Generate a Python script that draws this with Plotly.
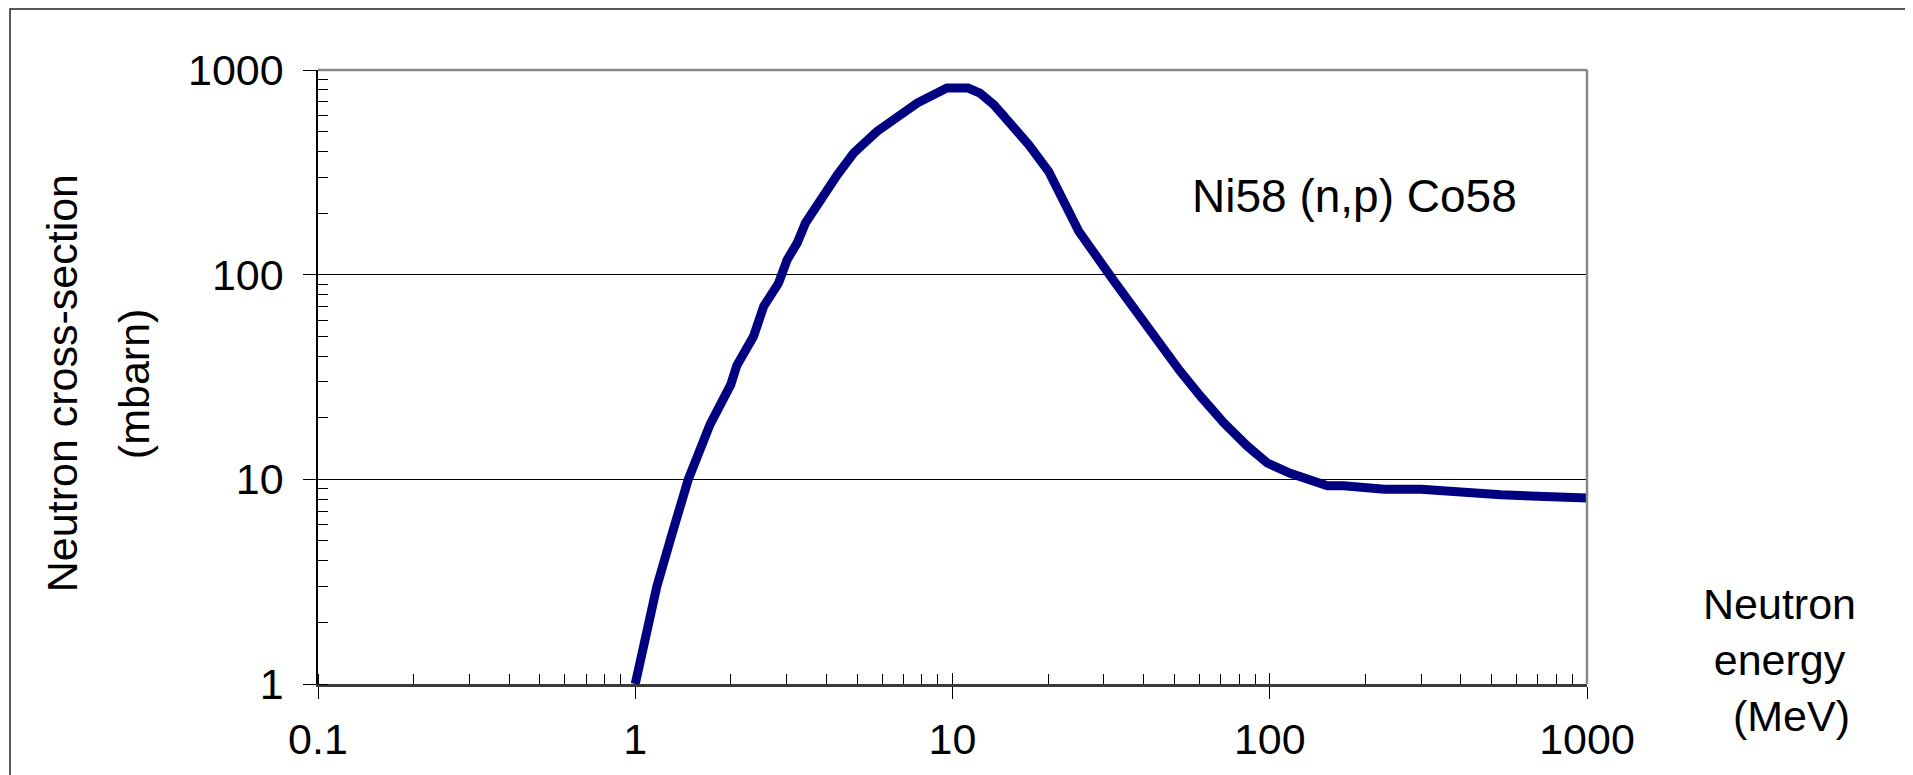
import plotly.graph_objects as go

# Neutron energy (MeV) and Ni58(n,p)Co58 cross-section (mbarn)
energy_mev = [1.0, 1.17, 1.31, 1.47, 1.72, 2.0, 2.09, 2.36, 2.54, 2.83, 3.01, 3.24, 3.44,
              3.83, 4.33, 4.88, 5.78, 7.74, 9.6, 11.2, 12.2, 13.5, 15.2, 17.4, 20.1, 22.4,
              25.0, 32.3, 43.2, 52.0, 60.6, 71.8, 85.1, 98.4, 116.0, 152.0, 171.0, 230.0,
              300.0, 535.0, 1000.0]
cross_section_mbarn = [1.0, 3.0, 5.5, 10.0, 18.5, 29.0, 36.0, 50.0, 70.0, 91.0, 118.0, 143.0,
                       179.0, 232.0, 307.0, 393.0, 501.0, 689.0, 816.0, 816.0, 771.0, 676.0,
                       550.0, 431.0, 319.0, 224.0, 163.0, 93.0, 50.0, 34.0, 25.4, 18.8, 14.5,
                       12.0, 10.7, 9.3, 9.3, 8.95, 8.95, 8.4, 8.1]

x_tick_vals = [0.1, 1, 10, 100, 1000]
x_tick_text = ["0.1", "1", "10", "100", "1000"]
y_tick_vals = [1, 10, 100, 1000]
y_tick_text = ["1", "10", "100", "1000"]

series_label = "Ni58 (n,p) Co58"
x_title = "Neutron<br>energy<br>&nbsp;&nbsp;(MeV)"
y_title_line1 = "Neutron cross-section"
y_title_line2 = "(mbarn)"

FONT = "Liberation Sans, Arial, sans-serif"

fig = go.Figure()
fig.add_trace(go.Scatter(
    x=energy_mev, y=cross_section_mbarn, mode="lines",
    line=dict(color="#000080", width=9),
    showlegend=False, hoverinfo="x+y",
))
# helper trace for the inner half of the major x ticks
fig.add_trace(go.Scatter(x=[], y=[], xaxis="x2", yaxis="y", mode="lines",
                         showlegend=False, hoverinfo="skip"))

fig.update_layout(
    width=1913, height=775,
    margin=dict(l=310, r=334, t=62, b=99),
    paper_bgcolor="white", plot_bgcolor="white",
    font=dict(family=FONT, color="black", size=43),
    xaxis=dict(
        type="log", range=[-1, 3], automargin=False,
        tickvals=x_tick_vals, ticktext=x_tick_text,
        ticks="outside", ticklen=12, tickwidth=1.3, tickcolor="black",
        tickfont=dict(size=43, family=FONT, color="black"),
        ticklabelstandoff=4,
        showline=True, linecolor="#3a3a3a", linewidth=2.5,
        showgrid=False, zeroline=False,
        minor=dict(ticks="inside", ticklen=10, tickwidth=1, tickcolor="black",
                   dtick="D1", showgrid=False),
    ),
    xaxis2=dict(
        type="log", range=[-1, 3], overlaying="x", anchor="y", side="bottom",
        automargin=False,
        tickvals=x_tick_vals, ticks="inside", ticklen=11, tickwidth=1.3,
        tickcolor="black", showticklabels=False, showgrid=False, zeroline=False,
        showline=False,
    ),
    yaxis=dict(
        type="log", range=[0, 3], automargin=False,
        tickvals=y_tick_vals, ticktext=y_tick_text,
        ticks="outside", ticklen=13, tickwidth=1.3, tickcolor="black",
        tickfont=dict(size=43, family=FONT, color="black"),
        ticklabelstandoff=11,
        showline=True, linecolor="black", linewidth=1.5,
        showgrid=True, gridcolor="black", gridwidth=1,
        zeroline=False,
        minor=dict(ticks="inside", ticklen=10, tickwidth=1, tickcolor="black",
                   dtick="D1", showgrid=False),
    ),
    shapes=[
        # plot-area top and right borders (grey)
        dict(type="line", xref="paper", yref="paper", x0=0, x1=1, y0=1, y1=1,
             line=dict(color="#888888", width=2.5)),
        dict(type="line", xref="paper", yref="paper", x0=1, x1=1, y0=0, y1=1,
             line=dict(color="#888888", width=2.5)),
        # outer chart frame
        dict(type="rect", xref="paper", yref="paper",
             x0=-0.2427, x1=1.2522, y0=-0.2, y1=1.0993,
             line=dict(color="#222222", width=1.5), fillcolor="rgba(0,0,0,0)",
             layer="below"),
    ],
    annotations=[
        dict(text=series_label, xref="paper", yref="paper", x=0.817, y=0.795,
             xanchor="center", yanchor="middle", showarrow=False,
             font=dict(size=46, family=FONT, color="black")),
        dict(text=x_title, xref="paper", yref="paper", x=1.152, y=0.039,
             xanchor="center", yanchor="middle", showarrow=False, align="center",
             font=dict(size=43, family=FONT, color="black")),
        dict(text=y_title_line1, xref="paper", yref="paper", x=-0.2017, y=0.49,
             xanchor="center", yanchor="middle", showarrow=False, textangle=-90,
             font=dict(size=43, family=FONT, color="black")),
        dict(text=y_title_line2, xref="paper", yref="paper", x=-0.145, y=0.49,
             xanchor="center", yanchor="middle", showarrow=False, textangle=-90,
             font=dict(size=43, family=FONT, color="black")),
    ],
)

fig.write_html("out.html")
